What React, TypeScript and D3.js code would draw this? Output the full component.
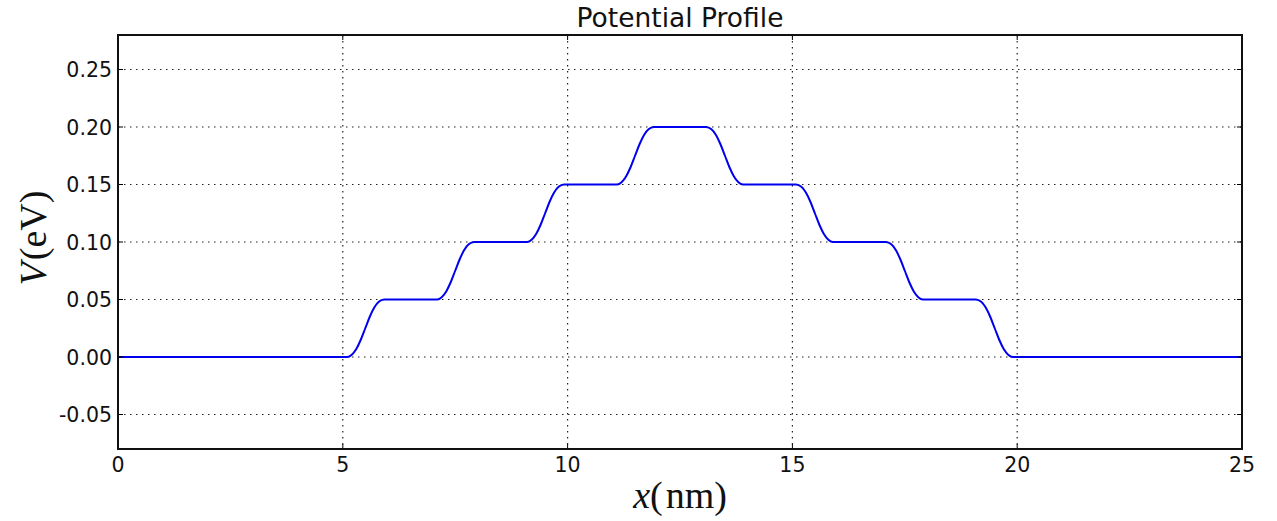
import React, { useEffect, useRef } from "react";
import * as d3 from "d3";

// potential profile (x in nm, V in eV)
const positions = [
  0, 5.1, 5.2, 5.3, 5.4, 5.5, 5.6, 5.7, 5.8, 5.92,
  7.1, 7.2, 7.3, 7.4, 7.5, 7.6, 7.7, 7.8, 7.92,
  9.1, 9.2, 9.3, 9.4, 9.5, 9.6, 9.7, 9.8, 9.92,
  11.1, 11.2, 11.3, 11.4, 11.5, 11.6, 11.7, 11.8, 11.92,
  13.08, 13.2, 13.3, 13.4, 13.5, 13.6, 13.7, 13.8, 13.9,
  15.08, 15.2, 15.3, 15.4, 15.5, 15.6, 15.7, 15.8, 15.9,
  17.08, 17.2, 17.3, 17.4, 17.5, 17.6, 17.7, 17.8, 17.9,
  19.08, 19.2, 19.3, 19.4, 19.5, 19.6, 19.7, 19.8, 19.9, 25,
];
const potential = [
  0, 0, 0.002, 0.007, 0.015, 0.025, 0.035, 0.043, 0.048, 0.05,
  0.05, 0.052, 0.057, 0.065, 0.075, 0.085, 0.093, 0.098, 0.1,
  0.1, 0.102, 0.107, 0.115, 0.125, 0.135, 0.143, 0.148, 0.15,
  0.15, 0.152, 0.157, 0.165, 0.175, 0.185, 0.193, 0.198, 0.2,
  0.2, 0.198, 0.193, 0.185, 0.175, 0.165, 0.157, 0.152, 0.15,
  0.15, 0.148, 0.143, 0.135, 0.125, 0.115, 0.107, 0.102, 0.1,
  0.1, 0.098, 0.093, 0.085, 0.075, 0.065, 0.057, 0.052, 0.05,
  0.05, 0.048, 0.043, 0.035, 0.025, 0.015, 0.007, 0.002, 0, 0,
];
const xTicks = [0, 5, 10, 15, 20, 25];
const yTicks = [-0.05, 0, 0.05, 0.1, 0.15, 0.2, 0.25];

const App = () => {
  const chartRef = useRef<SVGSVGElement>(null);

  useEffect(() => {
    const svg = d3.select(chartRef.current);
    svg.selectAll("*").remove();

    const left = 118, right = 1242, top = 35, bottom = 449;
    const x = d3.scaleLinear().domain([0, 25]).range([left, right]);
    const y = d3.scaleLinear().domain([-0.08, 0.28]).range([bottom, top]);
    const tickFont = "'DejaVu Sans', sans-serif";
    const mathFont = "'Liberation Serif', 'DejaVu Serif', serif";

    // grid
    const grid = svg.append("g")
      .attr("stroke", "#222")
      .attr("stroke-width", 1.2)
      .attr("stroke-dasharray", "1.5,4.5");
    grid.selectAll("line.gx")
      .data(xTicks.filter(d => d > 0 && d < 25))
      .enter().append("line")
      .attr("x1", d => x(d)).attr("x2", d => x(d))
      .attr("y1", top).attr("y2", bottom);
    grid.selectAll("line.gy")
      .data(yTicks)
      .enter().append("line")
      .attr("x1", left).attr("x2", right)
      .attr("y1", d => y(d)).attr("y2", d => y(d));

    // curve
    const pts = positions.map((p, i) => [p, potential[i]] as [number, number]);
    svg.append("path")
      .datum(pts)
      .attr("fill", "none")
      .attr("stroke", "#0000ee")
      .attr("stroke-width", 2)
      .attr("d", d3.line().x(d => x(d[0])).y(d => y(d[1])).curve(d3.curveMonotoneX));

    // ticks (inside, on all four sides)
    const ticks = svg.append("g").attr("stroke", "#000").attr("stroke-width", 1);
    xTicks.forEach(t => {
      ticks.append("line").attr("x1", x(t)).attr("x2", x(t)).attr("y1", bottom).attr("y2", bottom - 5);
      ticks.append("line").attr("x1", x(t)).attr("x2", x(t)).attr("y1", top).attr("y2", top + 5);
    });
    yTicks.forEach(t => {
      ticks.append("line").attr("x1", left).attr("x2", left + 5).attr("y1", y(t)).attr("y2", y(t));
      ticks.append("line").attr("x1", right).attr("x2", right - 5).attr("y1", y(t)).attr("y2", y(t));
    });

    // frame
    svg.append("rect")
      .attr("x", left).attr("y", top)
      .attr("width", right - left).attr("height", bottom - top)
      .attr("fill", "none").attr("stroke", "#111").attr("stroke-width", 2);

    // tick labels
    svg.selectAll("text.xl")
      .data(xTicks)
      .enter().append("text")
      .attr("x", d => x(d)).attr("y", bottom + 23)
      .attr("text-anchor", "middle")
      .style("font-family", tickFont).style("font-size", "20.5px").attr("fill", "#111")
      .text(d => d3.format("d")(d));
    svg.selectAll("text.yl")
      .data(yTicks)
      .enter().append("text")
      .attr("x", left - 6).attr("y", d => y(d) + 7.5)
      .attr("text-anchor", "end")
      .style("font-family", tickFont).style("font-size", "20.5px").attr("fill", "#111")
      .text(d => d3.format(".2f")(d).replace("−", "-"));

    // title
    svg.append("text")
      .attr("x", (left + right) / 2).attr("y", 27)
      .attr("text-anchor", "middle")
      .style("font-family", tickFont).style("font-size", "26.5px").attr("fill", "#111")
      .text("Potential Profile");

    // axis labels
    const xl = svg.append("text")
      .attr("x", (left + right) / 2).attr("y", 508)
      .attr("text-anchor", "middle")
      .style("font-family", mathFont).style("font-size", "38px").attr("fill", "#111");
    xl.append("tspan").style("font-style", "italic").text("x");
    xl.append("tspan").text("(");
    xl.append("tspan").attr("dx", 3).text("nm)");

    const yl = svg.append("text")
      .attr("transform", `translate(46,238) rotate(-90)`)
      .attr("text-anchor", "middle")
      .style("font-family", mathFont).style("font-size", "38px").attr("fill", "#111");
    yl.append("tspan").style("font-style", "italic").text("V");
    yl.append("tspan").attr("dx", 2).text("(eV)");
  }, []);

  return (
    <svg
      ref={chartRef}
      width={1277}
      height={521}
      style={{ position: "absolute", left: 0, top: 0, background: "#fff" }}
    />
  );
};

export default App;
